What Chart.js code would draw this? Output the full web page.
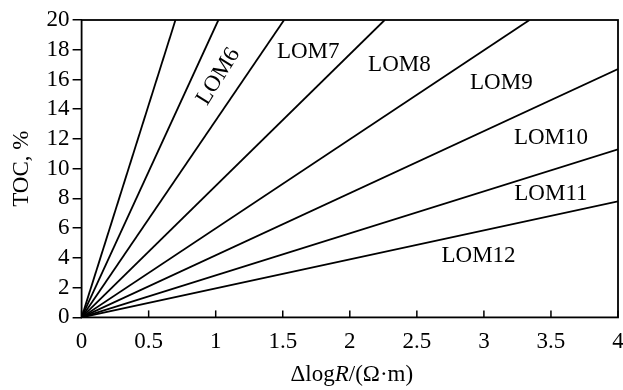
<!DOCTYPE html>
<html>
<head>
<meta charset="utf-8">
<script src="https://cdn.jsdelivr.net/npm/chart.js@4"></script>
<style>
  html, body { margin: 0; padding: 0; background: #fff; }
  #wrap { width: 623px; height: 390px; position: relative; }
</style>
</head>
<body>
<div id="wrap"><canvas id="lomChart"></canvas></div>
<script>
// --- DATA ---
const lomNames = ["LOM5", "LOM6", "LOM7", "LOM8", "LOM9", "LOM10", "LOM11", "LOM12"];
// each line runs from the origin to where it leaves the plot
const startX = [0, 0, 0, 0, 0, 0, 0, 0];
const startY = [0, 0, 0, 0, 0, 0, 0, 0];
const endX = [0.70, 1.02, 1.51, 2.26, 3.34, 4, 4, 4];
const endY = [20, 20, 20, 20, 20, 16.7, 11.3, 7.8];
const xTicks = [0, 0.5, 1, 1.5, 2, 2.5, 3, 3.5, 4];
const yTicks = [0, 2, 4, 6, 8, 10, 12, 14, 16, 18, 20];

// label anchors (data coords) + rotation, LOM5 has none
const labelPos = {
  LOM6: { x: 1.02, y: 16.2, rot: -58 },
  LOM7: { x: 1.69, y: 17.85, rot: 0 },
  LOM8: { x: 2.37, y: 16.95, rot: 0 },
  LOM9: { x: 3.13, y: 15.75, rot: 0 },
  LOM10: { x: 3.50, y: 12.1, rot: 0 },
  LOM11: { x: 3.50, y: 8.3, rot: 0 },
  LOM12: { x: 2.96, y: 4.15, rot: 0 }
};

const FONT = "'Liberation Serif', 'DejaVu Serif', serif";
const FS = 23;

const datasets = lomNames.map((name, i) => ({
  label: name,
  data: [{ x: startX[i], y: startY[i] }, { x: endX[i], y: endY[i] }],
  borderColor: "#000",
  borderWidth: 1.8,
  pointRadius: 0,
  fill: false
}));

// frame, inward x ticks, line labels, x title
const decoPlugin = {
  id: "deco",
  afterDraw(chart) {
    const { ctx, chartArea: a, scales } = chart;
    const xs = scales.x, ys = scales.y;
    ctx.save();
    ctx.strokeStyle = "#000";
    ctx.lineWidth = 1.8;
    ctx.strokeRect(a.left, a.top, a.right - a.left, a.bottom - a.top);

    ctx.lineWidth = 1.5;
    xTicks.forEach(v => {
      const px = xs.getPixelForValue(v);
      ctx.beginPath();
      ctx.moveTo(px, a.bottom);
      ctx.lineTo(px, a.bottom - 7);
      ctx.stroke();
    });

    ctx.fillStyle = "#000";
    ctx.font = FS + "px " + FONT;
    ctx.textAlign = "center";
    ctx.textBaseline = "middle";
    Object.keys(labelPos).forEach(name => {
      const p = labelPos[name];
      ctx.save();
      ctx.translate(xs.getPixelForValue(p.x), ys.getPixelForValue(p.y));
      ctx.rotate(p.rot * Math.PI / 180);
      ctx.fillText(name, 0, 0);
      ctx.restore();
    });

    // x axis title with italic R
    const parts = [["\u0394log", ""], ["R", "italic "], ["/(\u03A9\u00B7m)", ""]];
    let total = 0;
    parts.forEach(p => { ctx.font = p[1] + FS + "px " + FONT; total += ctx.measureText(p[0]).width; });
    let cx = (a.left + a.right) / 2 + 2 - total / 2;
    const ty = 375;
    ctx.textAlign = "left";
    parts.forEach(p => {
      ctx.font = p[1] + FS + "px " + FONT;
      ctx.fillText(p[0], cx, ty);
      cx += ctx.measureText(p[0]).width;
    });
    ctx.restore();
  }
};

const ctx = document.getElementById("lomChart").getContext("2d");
new Chart(ctx, {
  type: "line",
  data: { datasets },
  options: {
    responsive: true,
    maintainAspectRatio: false,
    animation: false,
    layout: { padding: { top: 20, right: 5, bottom: 23, left: 0 } },
    plugins: { legend: { display: false }, tooltip: { enabled: false } },
    scales: {
      x: {
        type: "linear",
        min: 0, max: 4,
        afterBuildTicks: s => { s.ticks = xTicks.map(v => ({ value: v })); },
        afterFit: s => { s.paddingRight = 0; s.paddingLeft = 0; },
        border: { display: false },
        grid: { display: false, drawTicks: false },
        ticks: { color: "#000", font: { family: FONT, size: FS }, padding: 11, maxRotation: 0,
                 autoSkip: false, callback: v => String(v) }
      },
      y: {
        type: "linear",
        min: 0, max: 20,
        afterBuildTicks: s => { s.ticks = yTicks.map(v => ({ value: v })); },
        border: { display: false },
        grid: { drawOnChartArea: false, drawTicks: true, tickLength: 9, color: "#000", lineWidth: 1.5 },
        ticks: { color: "#000", font: { family: FONT, size: FS }, padding: 3, autoSkip: false,
                 callback: v => String(v) },
        title: { display: true, text: "TOC, %", color: "#000", font: { family: FONT, size: FS },
                 padding: { top: 8, bottom: 8 } }
      }
    }
  },
  plugins: [decoPlugin]
});
</script>
</body>
</html>
